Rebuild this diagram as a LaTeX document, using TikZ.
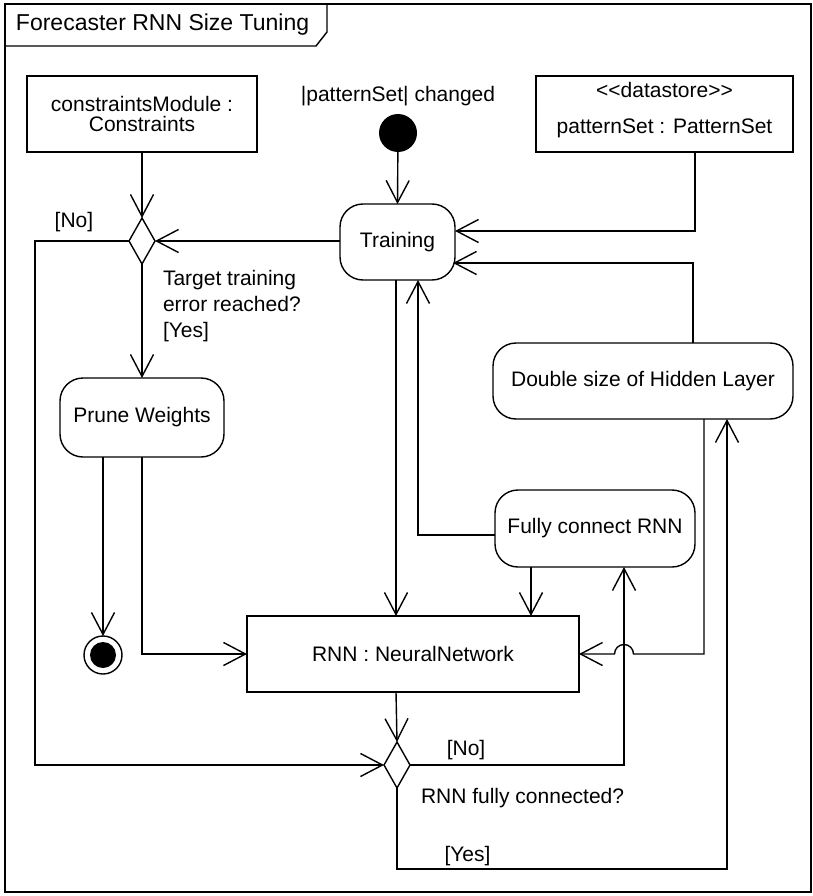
\documentclass[tikz,border=0pt]{standalone}
\usepackage{fontspec}
\setmainfont{Liberation Sans}
\usetikzlibrary{arrows.meta,shapes.geometric}
\begin{document}
\begin{tikzpicture}[x=1pt,y=-1pt,
  line width=1.4pt,
  every node/.style={font=\fontsize{21}{19.5}\selectfont, inner sep=0pt, outer sep=0pt},
  objbox/.style={draw, rectangle, align=center},
  action/.style={draw, rectangle, rounded corners=23pt, align=center},
  decision/.style={draw, diamond, minimum width=26pt, minimum height=46pt},
  flow/.style={-{Straight Barb[length=22pt,width=23pt]}},
  guard/.style={anchor=center},
  note/.style={anchor=base west},
]
\useasboundingbox (0,0) rectangle (813,896);

% frame with its name tab
\draw (5,4) rectangle (811,892);
\draw (5,46) -- (316,46) -- (327,32) -- (327,4);
\node[anchor=west, font=\fontsize{23}{24}\selectfont] (title) at (16,25) {Forecaster RNN Size Tuning};

% object nodes
\node[objbox, minimum width=230pt, minimum height=76pt] (cons) at (142,114) {constraintsModule :\\Constraints};
\node[objbox, minimum width=257pt, minimum height=76pt] (pset) at (664.5,114) {};
\node (pstereo) at (664.5,90) {<{}<datastore>{}>};
\node (pname) at (664.5,128) {patternSet : PatternSet};
\node[objbox, minimum width=332pt, minimum height=76pt] (rnn) at (413,654) {RNN : NeuralNetwork};

% initial and final nodes
\node (initlabel) at (398,96) {|patternSet| changed};
\node[circle, fill=black, minimum size=38pt] (init) at (398,133) {};
\node[circle, draw, minimum size=38pt] (final) at (103,655) {};
\fill (final.center) circle (13pt);

% actions
\node[action, minimum width=115pt, minimum height=76pt] (train) at (397.5,242) {Training};
\node[action, minimum width=164pt, minimum height=79pt] (prune) at (142,417.5) {Prune Weights};
\node[action, minimum width=200pt, minimum height=77pt] (fc) at (595,528.5) {Fully connect RNN};
\node[action, minimum width=300pt, minimum height=76pt] (dbl) at (643,381) {Double size of Hidden Layer};

% decisions
\node[decision] (dec1) at (142,241) {};
\node[decision] (dec2) at (397,765) {};

% helper points for routed connectors
\coordinate (noleft) at (35,241);
\coordinate (yesbottom) at (397,869);
\coordinate (nocol) at ([xshift=29pt]fc.south);

% connectors
\draw[flow] (init) -- (train.north);
\draw[flow] (cons.south) -- (dec1.north);
\draw[flow] (train.west |- dec1.east) -- (dec1.east);
\draw[flow] (dec1.west) -| (noleft |- dec2.west) -- (dec2.west);
\draw[flow] (dec1.south) -- (prune.north);
\draw[flow] (prune.south -| final) -- (final.north);
\draw[flow] (prune.south) |- (rnn.west);
\draw[flow] ([xshift=30.5pt]pset.south) |- ([yshift=11pt]train.east);
\draw[flow] ([xshift=50pt]dbl.north) |- ([xshift=-2pt,yshift=-21pt]train.east);
\draw[flow] ([xshift=-1.5pt]train.south) -- ([xshift=-1.5pt]train.south |- rnn.north);
\draw[flow] ([yshift=-6.5pt]fc.west) -| ([xshift=20.5pt]train.south);
\draw[flow] ([xshift=-64pt]fc.south) -- ([xshift=-64pt]fc.south |- rnn.north);
\draw[flow] ([xshift=61pt]dbl.south) |- ([xshift=9.5pt]nocol |- rnn.east)
  arc[start angle=0, end angle=180, radius=9.5pt] -- (rnn.east);
\draw[flow] ([xshift=-17pt]rnn.south) -- (dec2.north);
\draw[flow] (dec2.east) -| (nocol);
\draw[flow] (dec2.south) -- (yesbottom) -| ([xshift=84pt]dbl.south);

% guards and questions
\node[guard] (no1) at (74,222) {[No]};
\node[note] (q1a) at (163,285) {Target training};
\node[note] (q1b) at (163,311) {error reached?};
\node[note] (yes1) at (163,337.5) {[Yes]};
\node[guard] (no2) at (466,750) {[No]};
\node[note] (q2) at (421,803) {RNN fully connected?};
\node[guard] (yes2) at (467.5,856) {[Yes]};
\end{tikzpicture}
\end{document}
